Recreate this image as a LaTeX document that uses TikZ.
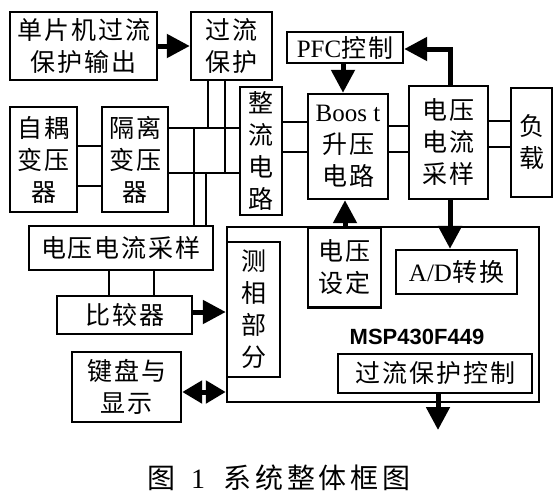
\documentclass[tikz,border=0pt]{standalone}
\usepackage{fontspec}
\setmainfont{Liberation Serif}
\newfontfamily\cjk[LetterSpace=8]{Noto Sans CJK SC}
\newfontfamily\capcjk[LetterSpace=14]{Noto Sans CJK SC}
\newfontfamily\chipfont{Liberation Sans}
\usetikzlibrary{arrows.meta}
\newcommand{\unitsize}{1pt}

\begin{document}
\begin{tikzpicture}[x=\unitsize,y=-\unitsize,
	blk/.style={draw, line width=2.4pt, inner sep=0pt, align=center,
		font=\fontsize{25}{32}\selectfont\cjk},
	wire/.style={line width=2.4pt},
	big/.style={line width=5pt, -{Triangle[length=23pt,width=23pt]}},
	bigtwo/.style={line width=5pt, {Triangle[length=20pt,width=22pt]}-{Triangle[length=20pt,width=22pt]}}]
	\useasboundingbox (0,0) rectangle (560,498);

	% left column
	\node[blk, minimum width=147, minimum height=68] (out) at (83.5,46) {单片机过流\\保护输出};
	\node[blk, minimum width=81, minimum height=68] (ocp) at (231.5,46) {过流\\保护};
	\node[blk, minimum width=67, minimum height=105] (auto) at (43.5,159.5) {自耦\\变压\\器};
	\node[blk, minimum width=66, minimum height=105] (iso) at (135,159.5) {隔离\\变压\\器};
	\node[blk, minimum width=42, minimum height=128] (rect) at (261,151) {整\\流\\电\\路};

	% power stage
	\node[blk, minimum width=116, minimum height=31] (pfc) at (345,47.5) {{\rmfamily PFC}控制};
	\node[blk, minimum width=80, minimum height=105] (boost) at (348,146.5) {{\rmfamily Boos t}\\升压\\电路};
	\node[blk, minimum width=79, minimum height=113] (samp) at (448.5,142.5) {电压\\电流\\采样};
	\node[blk, minimum width=41, minimum height=109] (load) at (531.5,142.5) {负\\载};

	% controller
	\node[blk, minimum width=312, minimum height=175] (mcu) at (383,314.5) {};
	\node[blk, fill=white, minimum width=73, minimum height=80] (vset) at (344.5,267.5) {电压\\设定};
	\node[blk, minimum width=121, minimum height=44] (adc) at (456.5,272) {{\rmfamily A/D}转换};
	\node[blk, minimum width=194, minimum height=39] (ocpc) at (435,373.5) {过流保护控制};
	\node[blk, minimum width=53, minimum height=135] (phase) at (253.5,309.5) {测\\相\\部\\分};
	\node[font=\fontsize{22}{26}\selectfont\chipfont\bfseries] (chip) at (417,337) {MSP430F449};

	% sampling side
	\node[blk, minimum width=184, minimum height=44] (vis) at (121,248) {电压电流采样};
	\node[blk, minimum width=135, minimum height=38] (cmp) at (124.5,315) {比较器};
	\node[blk, minimum width=109, minimum height=70] (kbd) at (126.5,387) {键盘与\\显示};

	\node[font=\fontsize{28}{30}\selectfont] (cap) at (279,478) {{\capcjk 图}\hspace{16pt}1\hspace{18pt}{\capcjk 系统整体框图}};

	\coordinate (ja) at (208,128);
	\coordinate (jb) at (225,173);
	\coordinate (jc) at (194,128);
	\coordinate (jd) at (206,173);
	\coordinate (fb) at (450,49);
	\coordinate (trip) at (438,430);

	\draw[wire] (auto.east |- 0,146) -- (iso.west |- 0,146);
	\draw[wire] (auto.east |- 0,186) -- (iso.west |- 0,186);
	\draw[wire] (iso.east |- ja) -- (rect.west |- ja);
	\draw[wire] (iso.east |- jb) -- (rect.west |- jb);
	\draw[wire] (ocp.south -| ja) -- (ja);
	\draw[wire] (ocp.south -| jb) -- (jb);
	\draw[wire] (jc) -- (vis.north -| jc);
	\draw[wire] (jd) -- (vis.north -| jd);
	\draw[wire] (rect.east |- 0,122) -- (boost.west |- 0,122);
	\draw[wire] (rect.east |- 0,152) -- (boost.west |- 0,152);
	\draw[wire] (boost.east |- 0,126) -- (samp.west |- 0,126);
	\draw[wire] (boost.east |- 0,152) -- (samp.west |- 0,152);
	\draw[wire] (samp.east |- 0,121) -- (load.west |- 0,121);
	\draw[wire] (samp.east |- 0,147) -- (load.west |- 0,147);
	\draw[wire] (vis.south -| 109,0) -- (cmp.north -| 109,0);
	\draw[wire] (vis.south -| 154,0) -- (cmp.north -| 154,0);

	\draw[big] (out.east) -- (ocp.west);
	\draw[big] (pfc.south -| 343,0) -- (boost.north -| 343,0);
	\draw[big] (samp.north -| fb) -- (fb) -- (pfc.east |- fb);
	\draw[big] (samp.south -| fb) -- (adc.north -| fb);
	\draw[big] (vset.north -| 345,0) -- (boost.south -| 345,0);
	\draw[big] (cmp.east |- 0,312) -- (phase.west |- 0,312);
	\draw[bigtwo] (kbd.east |- 0,392) -- (mcu.west |- 0,392);
	\draw[big] (ocpc.south -| trip) -- (trip);
\end{tikzpicture}
\end{document}
